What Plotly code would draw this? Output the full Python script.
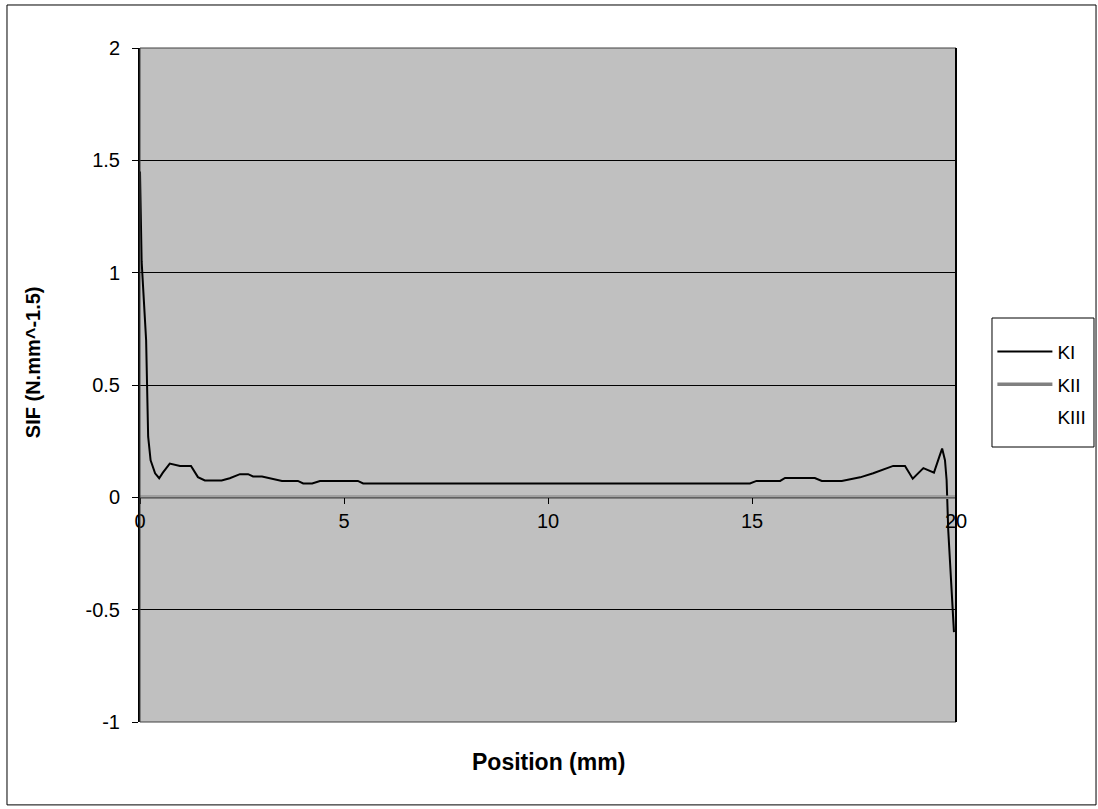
import plotly.graph_objects as go

# Crack-front position (mm) and mode I stress intensity factor
position_ki = [0.0, 0.04, 0.15, 0.17, 0.20, 0.26, 0.37, 0.47, 0.56, 0.73, 0.98, 1.25,
               1.42, 1.59, 2.00, 2.20, 2.45, 2.65, 2.77, 2.99, 3.48, 3.87, 4.00, 4.22,
               4.41, 5.34, 5.47, 14.95, 15.11, 15.69, 15.81, 16.54, 16.71, 17.20, 17.65,
               17.97, 18.46, 18.75, 18.94, 19.20, 19.46, 19.59, 19.66, 19.73, 19.77,
               19.81, 19.89, 19.95]
ki = [1.45, 1.05, 0.70, 0.55, 0.27, 0.165, 0.107, 0.085, 0.11, 0.15, 0.14, 0.14,
      0.09, 0.075, 0.075, 0.085, 0.103, 0.103, 0.093, 0.093, 0.073, 0.073, 0.062, 0.062,
      0.073, 0.073, 0.062, 0.062, 0.073, 0.073, 0.086, 0.086, 0.073, 0.073, 0.089,
      0.107, 0.14, 0.14, 0.083, 0.13, 0.11, 0.18, 0.217, 0.165, 0.076,
      -0.147, -0.43, -0.6]

# Modes II and III stay at zero along the front
position_k23 = [0.0, 20.0]
kii = [0.0, 0.0]
kiii = [0.0, 0.0]

x_ticks = [0, 5, 10, 15, 20]
y_ticks = [-1, -0.5, 0, 0.5, 1, 1.5, 2]

FONT = "Liberation Sans, Arial, sans-serif"

fig = go.Figure()
fig.add_trace(go.Scatter(x=position_ki, y=ki, mode="lines", name="KI",
                         line=dict(color="black", width=2), legendgroup="a"))
fig.add_trace(go.Scatter(x=position_k23, y=kii, mode="lines", name="KII",
                         line=dict(color="#808080", width=3.5), legendgroup="b"))
fig.add_trace(go.Scatter(x=position_k23, y=kiii, mode="lines", name="KIII",
                         line=dict(color="white", width=1.2), legendgroup="c"))

fig.update_layout(
    width=1098, height=809,
    margin=dict(l=140, r=142, t=48, b=87, autoexpand=False),
    paper_bgcolor="white",
    plot_bgcolor="#C0C0C0",
    font=dict(family=FONT, size=20, color="black"),
    showlegend=True,
    legend=dict(x=1.0446, y=0.5775, xanchor="left", yanchor="top",
                borderwidth=0, bgcolor="rgba(0,0,0,0)",
                font=dict(size=19, family=FONT, color="black"), itemwidth=55,
                tracegroupgap=5),
    xaxis=dict(range=[0, 20], tickvals=x_ticks, ticktext=[str(v) for v in x_ticks],
               showgrid=False, zeroline=False, anchor="free", position=1/3,
               showline=True, linecolor="#606060", linewidth=1,
               ticks="outside", ticklen=6, tickcolor="black", tickwidth=1,
               ticklabelstandoff=0,
               tickfont=dict(size=20, family=FONT, color="black")),
    yaxis=dict(range=[-1, 2], tickvals=y_ticks, ticktext=[f"{v:g}" for v in y_ticks],
               showgrid=True, gridcolor="black", gridwidth=1, zeroline=False,
               showline=True, linecolor="black", linewidth=2,
               ticks="outside", ticklen=6, tickcolor="black", tickwidth=1,
               ticklabelstandoff=8,
               tickfont=dict(size=20, family=FONT, color="black")),
    annotations=[
        dict(text="<b>Position (mm)</b>", xref="paper", yref="paper",
             x=0.5, y=-0.0593, xanchor="center", yanchor="middle", showarrow=False,
             font=dict(size=23, family=FONT, color="black")),
        dict(text="<b>SIF (N.mm^-1.5)</b>", xref="paper", yref="paper",
             x=-0.131, y=0.534, xanchor="center", yanchor="middle", showarrow=False,
             textangle=-90, font=dict(size=20, family=FONT, color="black")),
    ],
    shapes=[
        # plot area frame
        dict(type="rect", xref="paper", yref="paper", x0=0, y0=0, x1=1, y1=1,
             line=dict(color="#404040", width=1), layer="above"),
        dict(type="line", xref="paper", yref="paper", x0=1, y0=0, x1=1, y1=1,
             line=dict(color="black", width=2), layer="above"),
        # legend frame
        dict(type="rect", xref="paper", yref="paper",
             x0=1.0441, y0=0.408, x1=1.1691, y1=0.5994,
             line=dict(color="black", width=1)),
        # chart border
        dict(type="rect", xref="paper", yref="paper",
             x0=-0.163, y0=-0.123, x1=1.1716, y1=1.0638,
             line=dict(color="black", width=1)),
    ],
)

fig.write_html("out.html")
